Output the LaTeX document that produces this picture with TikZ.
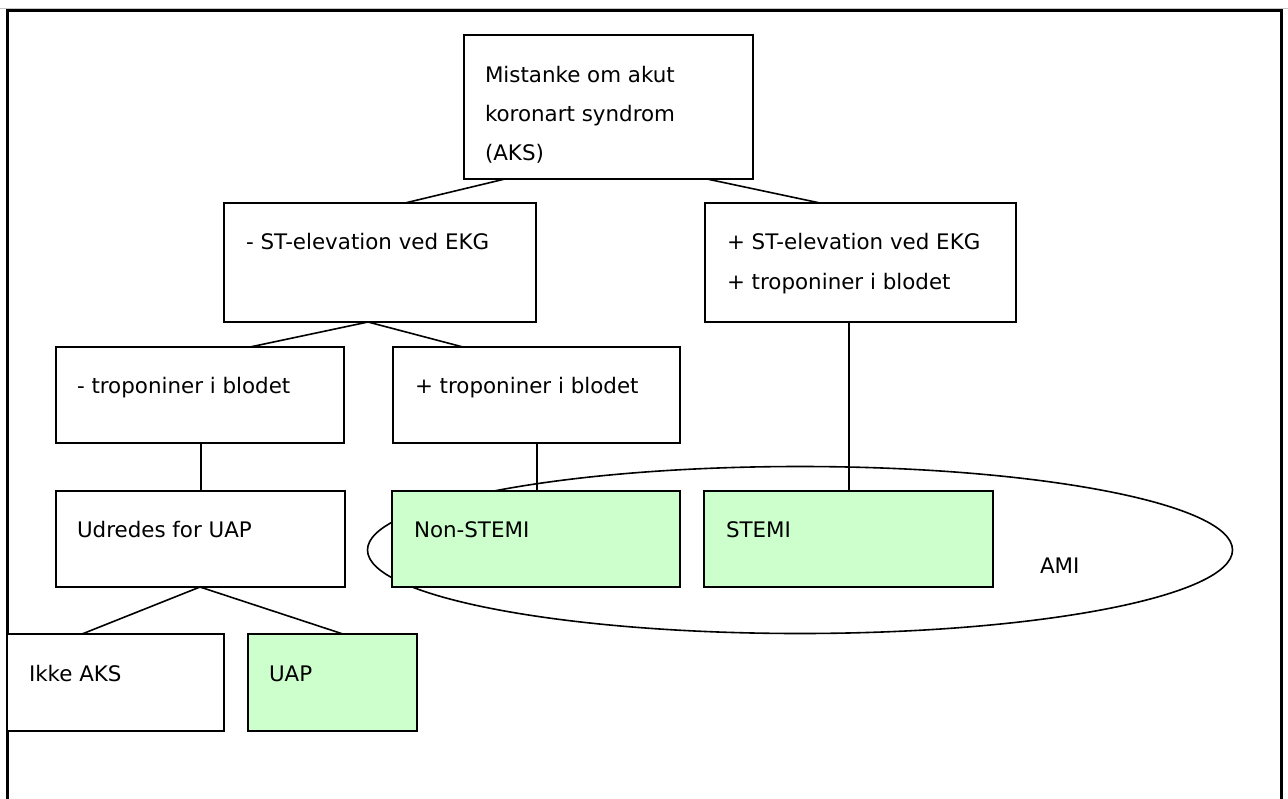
\documentclass[tikz,border=0pt]{standalone}
\usepackage{fontspec}
\setmainfont{DejaVu Sans}
\usetikzlibrary{calc,shapes.geometric}
\definecolor{lightgreen}{HTML}{CCFFCC}
\begin{document}
\begin{tikzpicture}[x=1pt,y=-1pt,
  box/.style={draw=black, line width=1.6pt, rectangle, inner sep=0pt, outer sep=0pt, fill=white, anchor=north west},
  greenbox/.style={box, fill=lightgreen},
  txt/.style={anchor=base west, inner sep=0pt, outer sep=0pt, font=\fontsize{21.4}{25}\selectfont},
  conn/.style={line width=1.6pt}
]
\useasboundingbox (0,0) rectangle (1288,798);
\fill[white] (0,0) rectangle (1288,798);
% page edge and frame
\draw[gray!45, line width=1pt] (0,8) -- (1288,8);
\draw[line width=2.2pt] (7.5,800) -- (7.5,10.5) -- (1281.5,10.5) -- (1281.5,800);

% AMI ellipse
\node[draw, ellipse, line width=1.6pt, inner sep=0pt, minimum width=865pt, minimum height=167pt] (amiell) at (800,550) {};
\node[txt] (ami) at (1040,573) {AMI};

% boxes
\node[box, minimum width=289pt, minimum height=144pt] (A) at (464,35) {};
\node[box, minimum width=312pt, minimum height=119pt] (B) at (224,203) {};
\node[box, minimum width=311pt, minimum height=119pt] (C) at (705,203) {};
\node[box, minimum width=288pt, minimum height=96pt] (D) at (56,347) {};
\node[box, minimum width=287pt, minimum height=96pt] (E) at (393,347) {};
\node[box, minimum width=289pt, minimum height=96pt] (F) at (56,491) {};
\node[greenbox, minimum width=288pt, minimum height=96pt] (G) at (392,491) {};
\node[greenbox, minimum width=289pt, minimum height=96pt] (H) at (704,491) {};
\node[box, minimum width=216.5pt, minimum height=97pt] (I) at (7.5,634) {};
\node[greenbox, minimum width=169pt, minimum height=97pt] (J) at (248,634) {};

% texts
\node[txt] (At1) at ($(A.north west)+(21,47)$) {Mistanke om akut};
\node[txt] (At2) at ($(A.north west)+(21,86)$) {koronart syndrom};
\node[txt] (At3) at ($(A.north west)+(21,125)$) {(AKS)};
\node[txt] (Bt) at ($(B.north west)+(22,46)$) {- ST-elevation ved EKG};
\node[txt] (Ct1) at ($(C.north west)+(22,46)$) {+ ST-elevation ved EKG};
\node[txt] (Ct2) at ($(C.north west)+(22,86)$) {+ troponiner i blodet};
\node[txt] (Dt) at ($(D.north west)+(21,46)$) {- troponiner i blodet};
\node[txt] (Et) at ($(E.north west)+(22,46)$) {+ troponiner i blodet};
\node[txt] (Ft) at ($(F.north west)+(21,46)$) {Udredes for UAP};
\node[txt] (Gt) at ($(G.north west)+(22,46)$) {Non-STEMI};
\node[txt] (Ht) at ($(H.north west)+(22,46)$) {STEMI};
\node[txt] (It) at ($(I.north west)+(21.5,47)$) {Ikke AKS};
\node[txt] (Jt) at ($(J.north west)+(21,47)$) {UAP};

% connectors
\draw[conn] ($(A.south west)+(41,0)$) -- ($(B.north west)+(181,0)$);
\draw[conn] ($(A.south west)+(243,0)$) -- ($(C.north west)+(115,0)$);
\draw[conn] ($(B.south west)+(144,0)$) -- ($(D.north west)+(194,0)$);
\draw[conn] ($(B.south west)+(144,0)$) -- ($(E.north west)+(70,0)$);
\draw[conn] ($(D.south west)+(145,0)$) -- ($(F.north west)+(145,0)$);
\draw[conn] ($(E.south west)+(144,0)$) -- ($(G.north west)+(145,0)$);
\draw[conn] ($(C.south west)+(144,0)$) -- ($(H.north west)+(145,0)$);
\draw[conn] ($(F.south west)+(144,0)$) -- ($(I.north west)+(74.5,0)$);
\draw[conn] ($(F.south west)+(144,0)$) -- ($(J.north west)+(95,0)$);
\end{tikzpicture}
\end{document}
